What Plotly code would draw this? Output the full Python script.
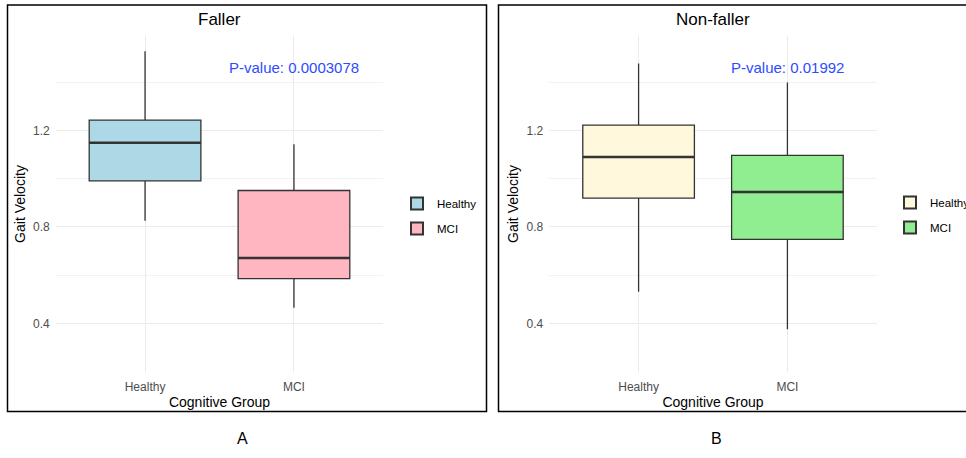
import plotly.graph_objects as go

# ---------------- data ----------------
groups = ["Healthy", "MCI"]
group_pos = [1, 2]

faller_lower = [0.826, 0.465]
faller_q1 = [0.991, 0.585]
faller_median = [1.149, 0.671]
faller_q3 = [1.243, 0.951]
faller_upper = [1.529, 1.143]
faller_colors = ["#ADD8E6", "#FFB6C1"]
faller_p = "P-value: 0.0003078"

non_lower = [0.531, 0.375]
non_q1 = [0.919, 0.748]
non_median = [1.090, 0.945]
non_q3 = [1.222, 1.097]
non_upper = [1.478, 1.399]
non_colors = ["#FFF8DC", "#90EE90"]
non_p = "P-value: 0.01992"

y_ticks = [0.4, 0.8, 1.2]
y_minor = [0.2, 0.6, 1.0, 1.4]
p_y = 1.463

# ---------------- style ----------------
FONT = "Liberation Sans, Arial, sans-serif"
BOX_W = 0.75
LINE = "#333333"
W, H = 966, 458

fig = go.Figure()

panels = [
    dict(title="Faller", lower=faller_lower, q1=faller_q1, med=faller_median, q3=faller_q3,
         upper=faller_upper, colors=faller_colors, p=faller_p, xa="x", ya="y", legend="legend",
         dom_x=[55.7 / W, 383.3 / W]),
    dict(title="Non-faller", lower=non_lower, q1=non_q1, med=non_median, q3=non_q3,
         upper=non_upper, colors=non_colors, p=non_p, xa="x2", ya="y2", legend="legend2",
         dom_x=[549.3 / W, 876.7 / W]),
]
dom_y = [1 - 372 / H, 1 - 36 / H]

for pi, pn in enumerate(panels):
    for i, g in enumerate(groups):
        fig.add_trace(go.Box(
            x=[group_pos[i]], q1=[pn["q1"][i]], median=[pn["med"][i]], q3=[pn["q3"][i]],
            lowerfence=[pn["lower"][i]], upperfence=[pn["upper"][i]],
            width=BOX_W, whiskerwidth=0, boxpoints=False,
            fillcolor=pn["colors"][i], line=dict(color=LINE, width=1.3),
            name=g, xaxis=pn["xa"], yaxis=pn["ya"], legend=pn["legend"],
            legendgroup=f"{pi}-{g}", hoverinfo="skip",
        ))
    for i, g in enumerate(groups):
        fig.add_trace(go.Scatter(
            x=[group_pos[i] - BOX_W / 2, group_pos[i] + BOX_W / 2],
            y=[pn["med"][i], pn["med"][i]], mode="lines",
            line=dict(color=LINE, width=2.6), showlegend=False,
            xaxis=pn["xa"], yaxis=pn["ya"], hoverinfo="skip",
        ))

axis_common_y = dict(
    range=[0.198, 1.592], tickvals=y_ticks, ticktext=[f"{v:.1f}" for v in y_ticks],
    showgrid=True, gridcolor="#EBEBEB", gridwidth=1.1, zeroline=False, showline=False,
    tickfont=dict(family=FONT, size=12, color="#4D4D4D"), ticks="", ticklen=0,
    ticklabelstandoff=5,
    minor=dict(tickvals=y_minor, showgrid=True, gridcolor="#F2F2F2", gridwidth=0.6, ticks=""),
    title=dict(text="Gait Velocity", font=dict(family=FONT, size=14, color="black"), standoff=4),
    automargin=False,
)
axis_common_x = dict(
    range=[0.4, 2.6], tickvals=group_pos, ticktext=groups,
    showgrid=True, gridcolor="#EBEBEB", gridwidth=1.1, zeroline=False, showline=False,
    tickfont=dict(family=FONT, size=12, color="#4D4D4D"), ticks="",
    ticklabelstandoff=6,
    title=dict(text="Cognitive Group", font=dict(family=FONT, size=14, color="black"), standoff=4),
    automargin=False,
)

fig.update_layout(
    xaxis=dict(domain=panels[0]["dom_x"], anchor="y", **axis_common_x),
    yaxis=dict(domain=dom_y, anchor="x", **axis_common_y),
    xaxis2=dict(domain=panels[1]["dom_x"], anchor="y2", **axis_common_x),
    yaxis2=dict(domain=dom_y, anchor="x2", **axis_common_y),
)

annotations = []
for pn, xr, yr, lab, labx in [(panels[0], "x", "y", "A", 242), (panels[1], "x2", "y2", "B", 716)]:
    annotations.append(dict(text=pn["title"], xref=f"{xr} domain", yref="paper", x=0.5, y=1 - 19 / H,
                            showarrow=False, font=dict(family=FONT, size=17, color="black"),
                            xanchor="center", yanchor="middle"))
    annotations.append(dict(text=pn["p"], xref=xr, yref=yr, x=group_pos[1], y=p_y,
                            showarrow=False, font=dict(family=FONT, size=15, color="#2E4BFF"),
                            xanchor="center", yanchor="middle"))
    annotations.append(dict(text=lab, xref="paper", yref="paper", x=labx / W, y=1 - 438 / H,
                            showarrow=False, font=dict(family=FONT, size=16, color="black"),
                            xanchor="center", yanchor="middle"))

shapes = [
    dict(type="rect", xref="paper", yref="paper", x0=7.5 / W, x1=486.5 / W, y0=1 - 411.5 / H, y1=1 - 5 / H,
         line=dict(color="black", width=1.5)),
    dict(type="rect", xref="paper", yref="paper", x0=498.5 / W, x1=1.02, y0=1 - 411.5 / H, y1=1 - 5 / H,
         line=dict(color="black", width=1.5)),
]

legend_common = dict(font=dict(family=FONT, size=11.5, color="black"), bgcolor="rgba(0,0,0,0)",
                     itemsizing="constant", tracegroupgap=6, yanchor="middle", xanchor="left")
fig.update_layout(
    width=W, height=H, autosize=False,
    margin=dict(l=0, r=0, t=0, b=0, autoexpand=False),
    paper_bgcolor="white", plot_bgcolor="white",
    annotations=annotations, shapes=shapes,
    showlegend=True,
    legend=dict(x=397 / W, y=1 - 216 / H, **legend_common),
    legend2=dict(x=890 / W, y=1 - 215 / H, **legend_common),
    font=dict(family=FONT),
)

fig.write_html("out.html", config={"displayModeBar": False},
               post_script="document.body.style.margin='0';")
